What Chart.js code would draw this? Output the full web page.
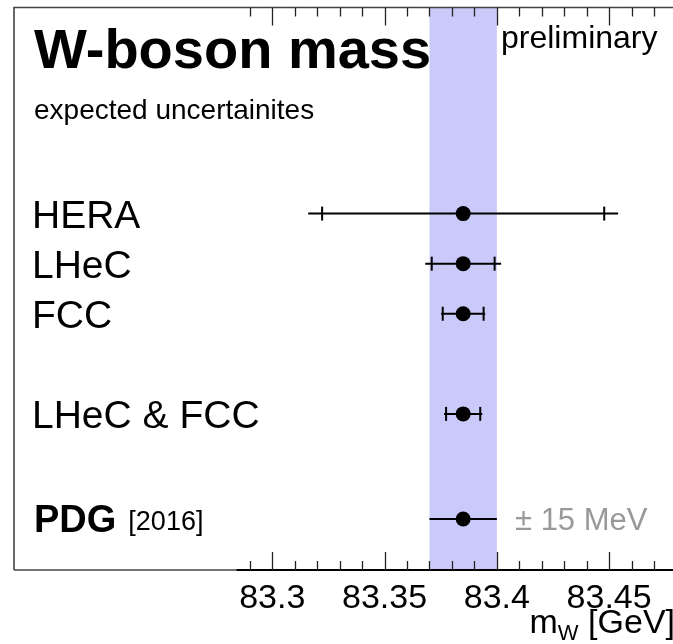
<!DOCTYPE html>
<html>
<head>
<meta charset="utf-8">
<script src="https://cdn.jsdelivr.net/npm/chart.js@4/dist/chart.umd.min.js"></script>
<style>
  html, body { margin: 0; padding: 0; background: #fff; overflow: hidden; width: 673px; height: 644px; }
  #wrap { width: 673px; height: 644px; overflow: hidden; position: relative; }
  canvas { display: block; }
</style>
</head>
<body>
<div id="wrap"><canvas id="c" width="700" height="644"></canvas></div>
<script>
// ---- data ----
const categories = ['HERA', 'LHeC', 'FCC', 'LHeC & FCC', 'PDG'];
const rows = [1, 2, 3, 5, 7.1];
const central = [83.385, 83.385, 83.385, 83.385, 83.385];
const errCap = [0.0628, 0.014, 0.0091, 0.0076, null];   // error with end caps (GeV)
const errLine = [0.069, 0.0169, 0.0098, 0.0085, 0.015];  // full error line (GeV)
const tickLabels = ['83.3', '83.35', '83.4', '83.45'];
const majorTicks = [83.30, 83.35, 83.40, 83.45];
const minorTickFirst = 83.29, minorTickLast = 83.48, minorStep = 0.01;
const pdgIndex = 4;

const FONT = '"Liberation Sans", Arial, Helvetica, sans-serif';

const points = categories.map((c, i) => ({ x: central[i], y: rows[i] }));

const bandPlugin = {
  id: 'band',
  beforeDatasetsDraw(chart) {
    const { ctx, chartArea: a, scales: { x, y } } = chart;
    ctx.save();
    // PDG band
    const x0 = x.getPixelForValue(central[pdgIndex] - errLine[pdgIndex]);
    const x1 = x.getPixelForValue(central[pdgIndex] + errLine[pdgIndex]);
    ctx.fillStyle = 'rgb(202,202,250)';
    ctx.fillRect(x0, a.top, x1 - x0, a.bottom - a.top);
    // error bars
    ctx.strokeStyle = '#000';
    ctx.lineWidth = 2;
    categories.forEach((c, i) => {
      const py = y.getPixelForValue(rows[i]);
      const l0 = x.getPixelForValue(central[i] - errLine[i]);
      const l1 = x.getPixelForValue(central[i] + errLine[i]);
      ctx.beginPath();
      ctx.moveTo(l0, py); ctx.lineTo(l1, py);
      ctx.stroke();
      if (errCap[i] != null) {
        [central[i] - errCap[i], central[i] + errCap[i]].forEach(v => {
          const px = x.getPixelForValue(v);
          ctx.beginPath();
          ctx.moveTo(px, py - 7); ctx.lineTo(px, py + 7);
          ctx.stroke();
        });
      }
    });
    ctx.restore();
  }
};

const framePlugin = {
  id: 'frame',
  afterDraw(chart) {
    const { ctx, chartArea: a, scales: { x, y } } = chart;
    ctx.save();
    // frame: left, top
    ctx.strokeStyle = '#444';
    ctx.lineWidth = 1.6;
    ctx.beginPath();
    ctx.moveTo(a.left, a.bottom);
    ctx.lineTo(a.left, a.top);
    ctx.lineTo(a.right, a.top);
    ctx.lineTo(a.right, a.bottom);
    ctx.stroke();
    // bottom frame (thin gray part)
    const axStart = x.getPixelForValue(83.284);
    ctx.beginPath();
    ctx.moveTo(a.left, a.bottom);
    ctx.lineTo(axStart, a.bottom);
    ctx.stroke();
    // axis line
    ctx.strokeStyle = '#000';
    ctx.lineWidth = 2.2;
    ctx.beginPath();
    ctx.moveTo(axStart, a.bottom);
    ctx.lineTo(a.right, a.bottom);
    ctx.stroke();
    // ticks (inward), bottom and top
    ctx.lineWidth = 1.3;
    ctx.strokeStyle = '#222';
    const nMinor = Math.round((minorTickLast - minorTickFirst) / minorStep);
    for (let k = 0; k <= nMinor; k++) {
      const v = +(minorTickFirst + k * minorStep).toFixed(3);
      const isMajor = majorTicks.some(m => Math.abs(m - v) < 1e-6);
      const len = isMajor ? 18 : 9;
      const px = Math.round(x.getPixelForValue(v)) + 0.5;
      ctx.beginPath();
      ctx.moveTo(px, a.bottom); ctx.lineTo(px, a.bottom - len);
      ctx.moveTo(px, a.top); ctx.lineTo(px, a.top + len);
      ctx.stroke();
    }
    // tick labels
    ctx.fillStyle = '#000';
    ctx.font = '34px ' + FONT;
    ctx.textAlign = 'center';
    ctx.textBaseline = 'alphabetic';
    majorTicks.forEach((v, i) => {
      ctx.fillText(tickLabels[i], x.getPixelForValue(v), a.bottom + 38);
    });
    // axis title m_W [GeV]
    ctx.textAlign = 'left';
    ctx.font = '34px ' + FONT;
    const t1 = 'm';
    const t2 = ' [GeV]';
    ctx.font = '22px ' + FONT;
    const wSub = ctx.measureText('W').width;
    ctx.font = '34px ' + FONT;
    const wM = ctx.measureText(t1).width;
    const wG = ctx.measureText(t2).width;
    const right = 675;
    const start = right - (wM + wSub + wG);
    const base = a.bottom + 63;
    ctx.fillText(t1, start, base);
    ctx.fillText(t2, start + wM + wSub, base);
    ctx.font = '22px ' + FONT;
    ctx.fillText('W', start + wM, base + 7);

    // title texts
    ctx.font = 'bold 56px ' + FONT;
    ctx.fillText('W-boson mass', a.left + 20, a.top + 60);
    ctx.font = '28px ' + FONT;
    ctx.fillText('expected uncertainites', a.left + 20, a.top + 111);
    ctx.font = '32px ' + FONT;
    ctx.fillText('preliminary', 501, a.top + 40);

    // row labels
    categories.forEach((c, i) => {
      const py = y.getPixelForValue(rows[i]);
      if (i === pdgIndex) {
        ctx.font = 'bold 38px ' + FONT;
        ctx.fillText(c, a.left + 20, py + 13);
        const w = ctx.measureText(c).width;
        ctx.font = '27px ' + FONT;
        ctx.fillText('[2016]', a.left + 20 + w + 12, py + 11);
      } else {
        ctx.font = '39px ' + FONT;
        ctx.fillText(c, a.left + 18, py + 14);
      }
    });
    // PDG uncertainty annotation
    ctx.fillStyle = '#999';
    ctx.font = '31px ' + FONT;
    const pyP = y.getPixelForValue(rows[pdgIndex]);
    ctx.fillText('\u00B1 15 MeV', 515, pyP + 11);
    ctx.restore();
  }
};

new Chart(document.getElementById('c'), {
  type: 'scatter',
  data: {
    datasets: [{
      data: points,
      pointRadius: 7.5,
      pointHoverRadius: 7.5,
      backgroundColor: '#000',
      borderColor: '#000',
      borderWidth: 0
    }]
  },
  options: {
    responsive: false,
    animation: false,
    events: [],
    layout: { padding: { left: 14, top: 5, right: 10, bottom: 74 } },
    plugins: { legend: { display: false }, tooltip: { enabled: false } },
    scales: {
      x: { type: 'linear', display: false, min: 83.185, max: 83.486 },
      y: { type: 'linear', display: false, reverse: true, min: -3.115, max: 8.117 }
    }
  },
  plugins: [bandPlugin, framePlugin]
});
</script>
</body>
</html>
